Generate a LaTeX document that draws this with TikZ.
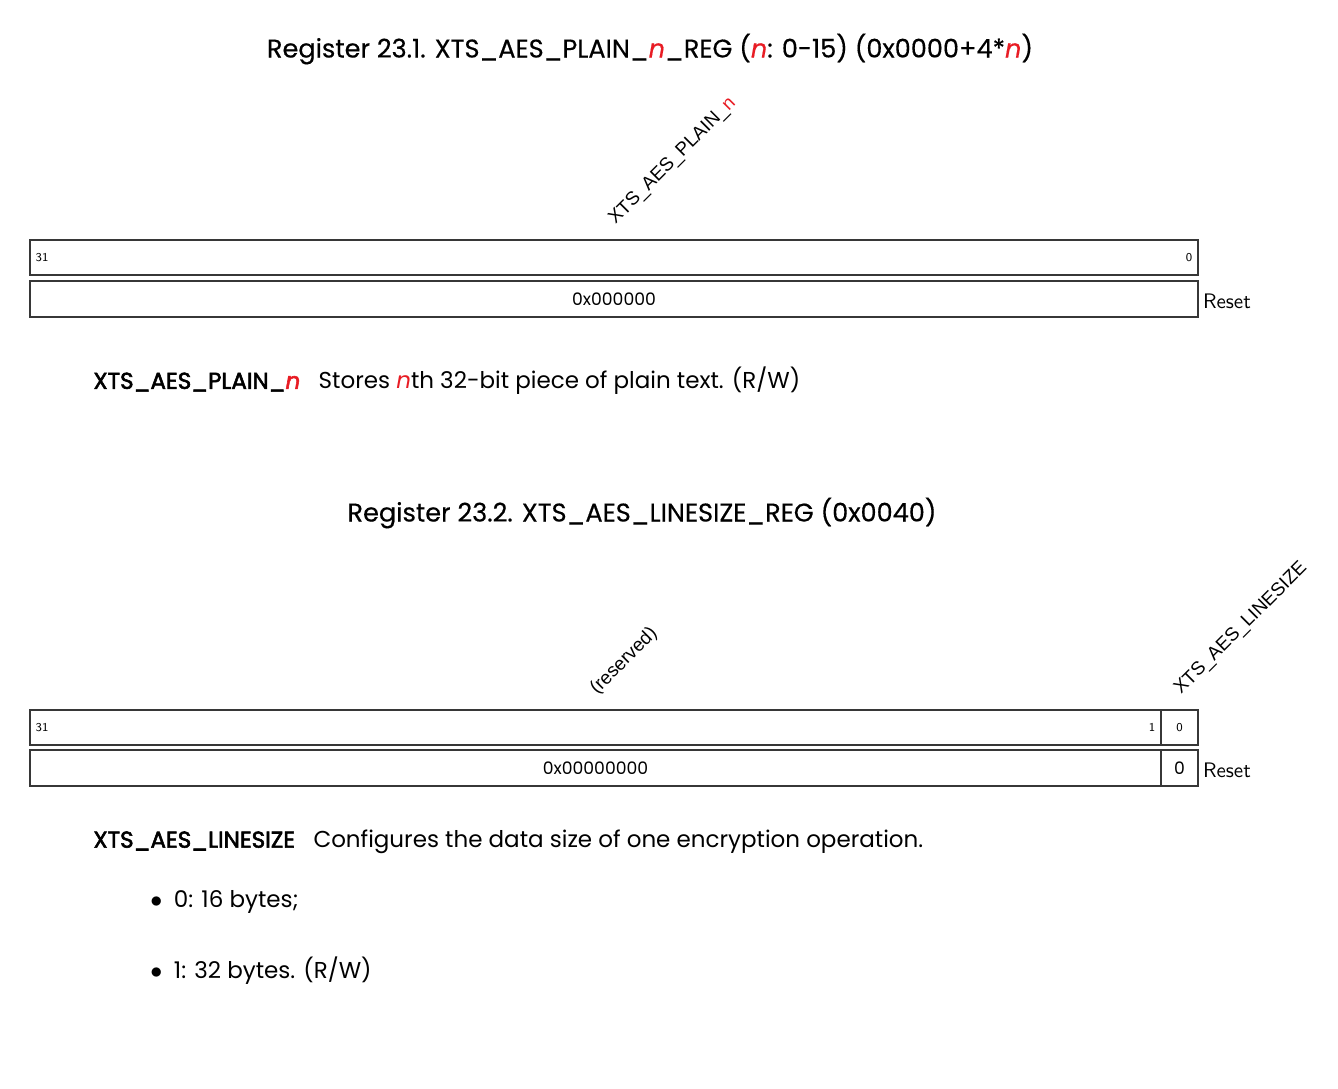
\documentclass[tikz,border=0pt]{standalone}
\usepackage{fontspec}
\usetikzlibrary{positioning,fit}
\newfontfamily\headfont[FakeBold=0.4]{Poppins}
\newfontfamily\descfont{Poppins}
\newfontfamily\keyfont[FakeBold=2.4]{Poppins}
\newfontfamily\fieldfont{Liberation Sans}
\definecolor{regred}{RGB}{232,28,36}
\definecolor{regline}{RGB}{55,55,55}
\newcommand{\regn}{\textcolor{regred}{\itshape n}}

\begin{document}
\begin{tikzpicture}[x=0.5pt,y=-0.5pt,
  regbox/.style={draw=regline,line width=0.65pt,inner sep=0pt},
  bitnum/.style={font=\sffamily\fontsize{6}{7}\selectfont,inner sep=3pt},
  fieldname/.style={font=\fieldfont\fontsize{9.4}{12}\selectfont,rotate=45,anchor=base west,inner sep=1pt,xshift=4.5pt,yshift=4.5pt},
  resetval/.style={font=\descfont\fontsize{8.6}{10}\selectfont},
  resetword/.style={font=\sffamily\fontsize{10.5}{12}\selectfont,anchor=west,inner sep=2pt},
  regtitle/.style={font=\headfont\fontsize{12.8}{15}\selectfont},
  regdesc/.style={font=\descfont\fontsize{11.5}{13}\selectfont,anchor=west,inner sep=0pt}]
\useasboundingbox (0,0) rectangle (1338,1088);

% register 23.1
\node[regtitle] (plaintitle) at (650,49) {Register 23.1. XTS\_AES\_PLAIN\_\regn\_REG (\regn: 0-15) (0x0000+4*\regn)};
\node[regbox,fit={(30,240) (1198,275)}] (plainbits) {};
\node[regbox,fit={(30,281) (1198,317)}] (plainreset) {};
\node[bitnum,anchor=west] at (plainbits.west) {31};
\node[bitnum,anchor=east] at (plainbits.east) {0};
\node[fieldname] (plainname) at (plainbits.north) {XTS\_AES\_PLAIN\_\textcolor{regred}{n}};
\node[resetval] at (plainreset.center) {0x000000};
\node[resetword] at ([yshift=-1pt]plainreset.east) {Reset};
\node[regdesc] (plaindesc) at (93,381) {{\keyfont XTS\_AES\_PLAIN\_\regn}\hspace{0.8em}Stores \regn th 32-bit piece of plain text. (R/W)};

% register 23.2
\node[regtitle] (sizetitle) at (642,513) {Register 23.2. XTS\_AES\_LINESIZE\_REG (0x0040)};
\node[regbox,fit={(30,710) (1161,745)}] (resbits) {};
\node[regbox,fit={(1161,710) (1198,745)}] (sizebit) {};
\node[regbox,fit={(30,750) (1161,786)}] (resreset) {};
\node[regbox,fit={(1161,750) (1198,786)}] (sizereset) {};
\node[bitnum,anchor=west] at (resbits.west) {31};
\node[bitnum,anchor=east] at (resbits.east) {1};
\node[bitnum] at (sizebit.center) {0};
\node[fieldname] (resname) at (resbits.north) {(reserved)};
\node[fieldname] (sizename) at (sizebit.north) {XTS\_AES\_LINESIZE};
\node[resetval] at (resreset.center) {0x00000000};
\node[resetval] at (sizereset.center) {0};
\node[resetword] at ([yshift=-1pt]sizereset.east) {Reset};
\node[regdesc] (sizedesc) at (93,842) {{\keyfont XTS\_AES\_LINESIZE}\hspace{0.8em}Configures the data size of one encryption operation.};
\node[regdesc] (sizeopt0) at (150,902) {$\bullet$\enspace 0: 16 bytes;};
\node[regdesc] (sizeopt1) at (150,971) {$\bullet$\enspace 1: 32 bytes. (R/W)};
\end{tikzpicture}
\end{document}
